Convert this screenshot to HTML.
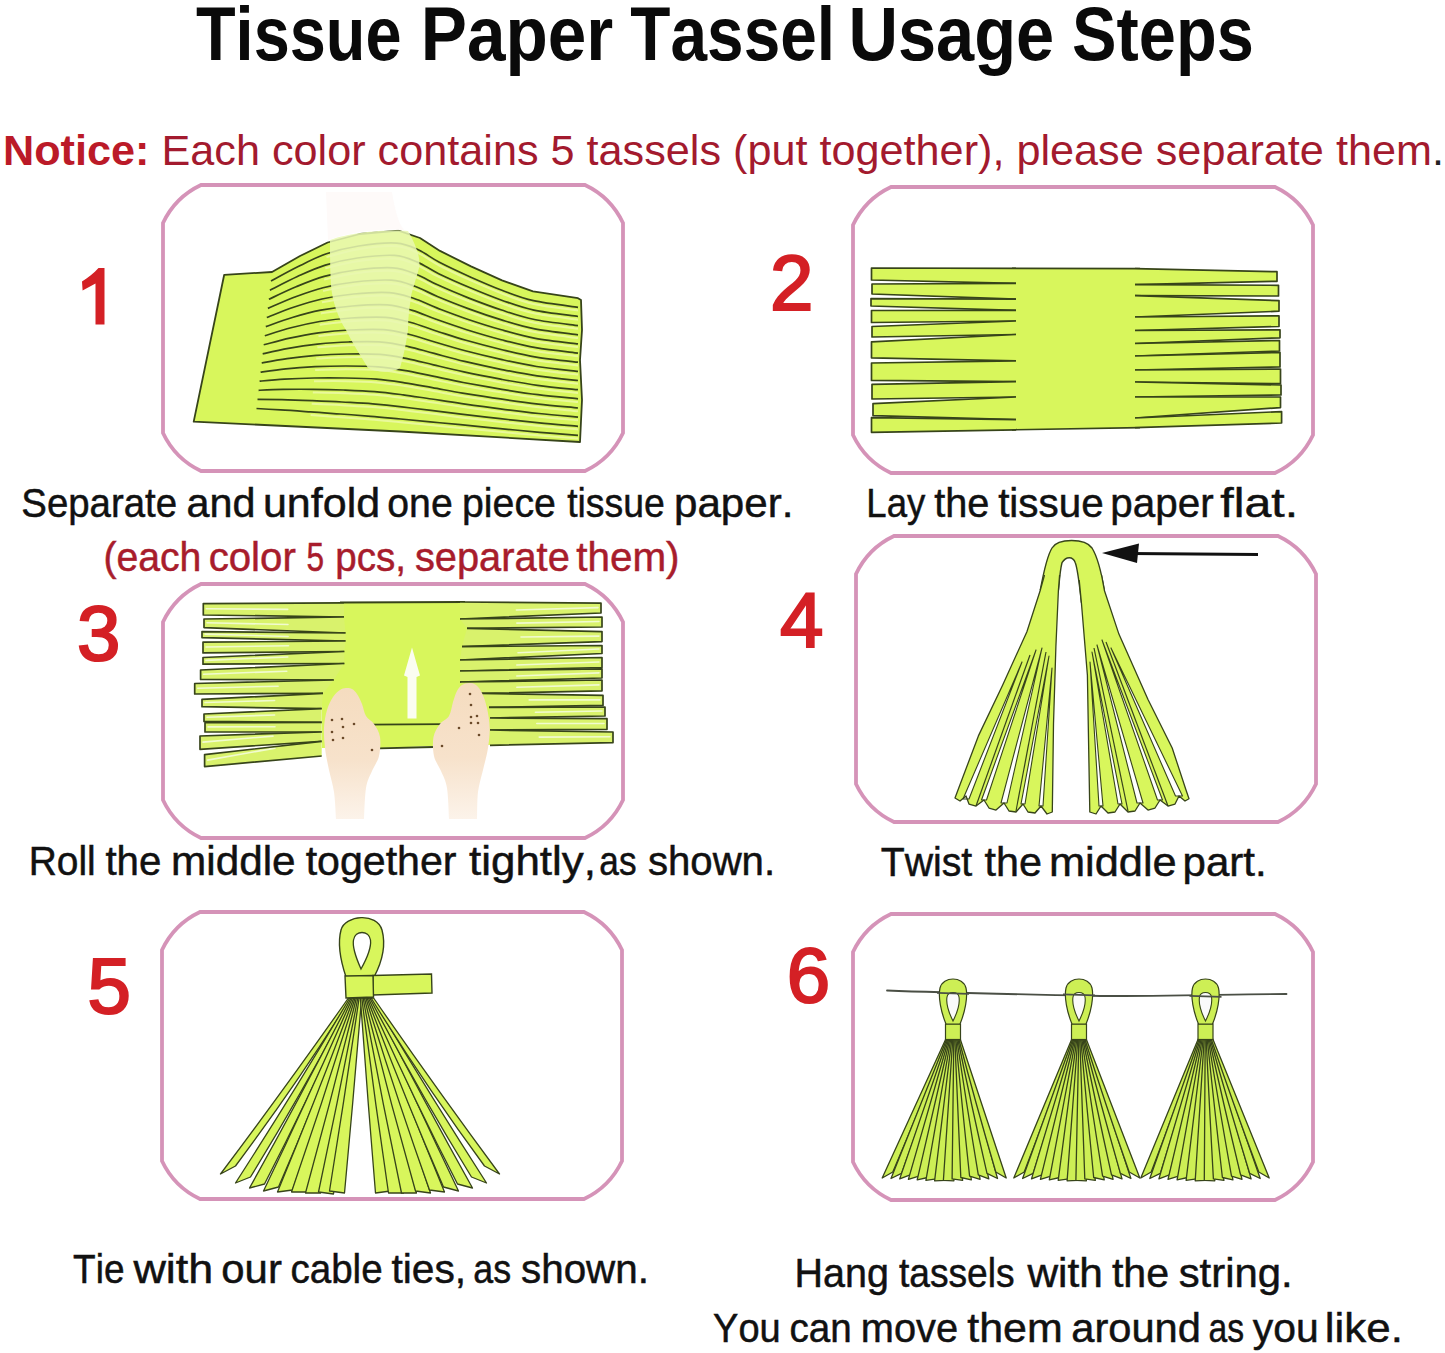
<!DOCTYPE html>
<html><head><meta charset="utf-8"><title>Tissue Paper Tassel Usage Steps</title>
<style>html,body{margin:0;padding:0;background:#fff;}body{width:1445px;height:1353px;overflow:hidden;}svg{display:block;}</style>
</head><body>
<svg width="1445" height="1353" viewBox="0 0 1445 1353"><defs><linearGradient id="skin" x1="0" y1="0" x2="0" y2="1"><stop offset="0" stop-color="#f5dcbf"/><stop offset="0.55" stop-color="#f7e2cb"/><stop offset="1" stop-color="#fcf3ea"/></linearGradient></defs><text x="195.97" y="60" font-family="'Liberation Sans', sans-serif" font-size="76.5" font-weight="bold" fill="#0a0a0a" textLength="205.55" lengthAdjust="spacingAndGlyphs" style="font-kerning:none">Tissue</text>
<text x="420.76" y="60" font-family="'Liberation Sans', sans-serif" font-size="76.5" font-weight="bold" fill="#0a0a0a" textLength="192.58" lengthAdjust="spacingAndGlyphs" style="font-kerning:none">Paper</text>
<text x="630.36" y="60" font-family="'Liberation Sans', sans-serif" font-size="76.5" font-weight="bold" fill="#0a0a0a" textLength="204.69" lengthAdjust="spacingAndGlyphs" style="font-kerning:none">Tassel</text>
<text x="848.38" y="60" font-family="'Liberation Sans', sans-serif" font-size="76.5" font-weight="bold" fill="#0a0a0a" textLength="205.76" lengthAdjust="spacingAndGlyphs" style="font-kerning:none">Usage</text>
<text x="1072.08" y="60" font-family="'Liberation Sans', sans-serif" font-size="76.5" font-weight="bold" fill="#0a0a0a" textLength="181.76" lengthAdjust="spacingAndGlyphs" style="font-kerning:none">Steps</text>
<text x="3" y="164.5" font-family="'Liberation Sans', sans-serif" font-size="42" fill="#a31a2e" textLength="1441" lengthAdjust="spacingAndGlyphs"><tspan font-weight="bold" fill="#bb1a28">Notice:</tspan> Each color contains 5 tassels (put together), please separate them<tspan fill="#222">.</tspan></text>
<path d="M201,185 L585,185 Q610.8,197.2 623,223 L623,433 Q610.8,458.8 585,471 L201,471 Q175.2,458.8 163,433 L163,223 Q175.2,197.2 201,185 Z" fill="none" stroke="#d593b8" stroke-width="3.8"/>
<path d="M891,187 L1275,187 Q1300.8,199.2 1313,225 L1313,435 Q1300.8,460.8 1275,473 L891,473 Q865.2,460.8 853,435 L853,225 Q865.2,199.2 891,187 Z" fill="none" stroke="#d593b8" stroke-width="3.8"/>
<path d="M201,584 L585,584 Q610.8,596.2 623,622 L623,800 Q610.8,825.8 585,838 L201,838 Q175.2,825.8 163,800 L163,622 Q175.2,596.2 201,584 Z" fill="none" stroke="#d593b8" stroke-width="3.8"/>
<path d="M894,536 L1278,536 Q1303.8,548.2 1316,574 L1316,784 Q1303.8,809.8 1278,822 L894,822 Q868.2,809.8 856,784 L856,574 Q868.2,548.2 894,536 Z" fill="none" stroke="#d593b8" stroke-width="3.8"/>
<path d="M200,912 L584,912 Q609.8,924.2 622,950 L622,1161 Q609.8,1186.8 584,1199 L200,1199 Q174.2,1186.8 162,1161 L162,950 Q174.2,924.2 200,912 Z" fill="none" stroke="#d593b8" stroke-width="3.8"/>
<path d="M891,914 L1275,914 Q1300.8,926.2 1313,952 L1313,1162 Q1300.8,1187.8 1275,1200 L891,1200 Q865.2,1187.8 853,1162 L853,952 Q865.2,926.2 891,914 Z" fill="none" stroke="#d593b8" stroke-width="3.8"/>
<polygon points="1012.0,268.3 1140.0,268.6 1140.0,427.6 1012.0,429.8" fill="#d8f65c"/>
<line x1="1012" y1="268.3" x2="1140" y2="268.6" stroke="#37441a" stroke-width="1.7"/>
<line x1="1012" y1="429.8" x2="1140" y2="427.6" stroke="#37441a" stroke-width="1.7"/>
<polygon points="1016.0,268.3 871.5,268.0 871.5,280.0 1016.0,283.3" fill="#d8f65c"/>
<polyline points="1016.0,268.3 871.5,268.0 871.5,280.0 1016.0,283.3" fill="none" stroke="#37441a" stroke-width="1.7" stroke-linejoin="round"/>
<polygon points="1016.0,283.3 872.0,284.0 872.0,294.0 1016.0,299.2" fill="#d8f65c"/>
<polyline points="1016.0,283.3 872.0,284.0 872.0,294.0 1016.0,299.2" fill="none" stroke="#37441a" stroke-width="1.7" stroke-linejoin="round"/>
<polygon points="1016.0,299.2 871.0,298.6 871.0,306.0 1016.0,310.3" fill="#d8f65c"/>
<polyline points="1016.0,299.2 871.0,298.6 871.0,306.0 1016.0,310.3" fill="none" stroke="#37441a" stroke-width="1.7" stroke-linejoin="round"/>
<polygon points="1016.0,310.3 871.5,310.5 871.5,322.5 1016.0,321.0" fill="#d8f65c"/>
<polyline points="1016.0,310.3 871.5,310.5 871.5,322.5 1016.0,321.0" fill="none" stroke="#37441a" stroke-width="1.7" stroke-linejoin="round"/>
<polygon points="1016.0,321.0 872.0,326.5 872.0,337.0 1016.0,334.5" fill="#d8f65c"/>
<polyline points="1016.0,321.0 872.0,326.5 872.0,337.0 1016.0,334.5" fill="none" stroke="#37441a" stroke-width="1.7" stroke-linejoin="round"/>
<polygon points="1016.0,334.5 871.5,341.8 871.5,357.8 1016.0,360.8" fill="#d8f65c"/>
<polyline points="1016.0,334.5 871.5,341.8 871.5,357.8 1016.0,360.8" fill="none" stroke="#37441a" stroke-width="1.7" stroke-linejoin="round"/>
<polygon points="1016.0,360.8 871.5,363.0 871.5,380.4 1016.0,381.7" fill="#d8f65c"/>
<polyline points="1016.0,360.8 871.5,363.0 871.5,380.4 1016.0,381.7" fill="none" stroke="#37441a" stroke-width="1.7" stroke-linejoin="round"/>
<polygon points="1016.0,381.7 872.0,384.4 872.0,399.0 1016.0,397.0" fill="#d8f65c"/>
<polyline points="1016.0,381.7 872.0,384.4 872.0,399.0 1016.0,397.0" fill="none" stroke="#37441a" stroke-width="1.7" stroke-linejoin="round"/>
<polygon points="1016.0,397.0 873.0,403.7 873.0,415.6 1016.0,419.6" fill="#d8f65c"/>
<polyline points="1016.0,397.0 873.0,403.7 873.0,415.6 1016.0,419.6" fill="none" stroke="#37441a" stroke-width="1.7" stroke-linejoin="round"/>
<polygon points="1016.0,419.6 871.5,417.6 871.5,432.3 1016.0,429.8" fill="#d8f65c"/>
<polyline points="1016.0,419.6 871.5,417.6 871.5,432.3 1016.0,429.8" fill="none" stroke="#37441a" stroke-width="1.7" stroke-linejoin="round"/>
<polygon points="1135.0,268.6 1277.0,271.7 1277.0,281.3 1135.0,284.6" fill="#d8f65c"/>
<polyline points="1135.0,268.6 1277.0,271.7 1277.0,281.3 1135.0,284.6" fill="none" stroke="#37441a" stroke-width="1.7" stroke-linejoin="round"/>
<polygon points="1135.0,284.6 1278.5,285.3 1278.5,296.0 1135.0,295.6" fill="#d8f65c"/>
<polyline points="1135.0,284.6 1278.5,285.3 1278.5,296.0 1135.0,295.6" fill="none" stroke="#37441a" stroke-width="1.7" stroke-linejoin="round"/>
<polygon points="1135.0,295.6 1279.0,300.6 1279.0,311.2 1135.0,317.0" fill="#d8f65c"/>
<polyline points="1135.0,295.6 1279.0,300.6 1279.0,311.2 1135.0,317.0" fill="none" stroke="#37441a" stroke-width="1.7" stroke-linejoin="round"/>
<polygon points="1135.0,317.0 1279.0,315.9 1279.0,326.5 1135.0,330.5" fill="#d8f65c"/>
<polyline points="1135.0,317.0 1279.0,315.9 1279.0,326.5 1135.0,330.5" fill="none" stroke="#37441a" stroke-width="1.7" stroke-linejoin="round"/>
<polygon points="1135.0,330.5 1280.0,329.8 1280.0,337.8 1135.0,343.5" fill="#d8f65c"/>
<polyline points="1135.0,330.5 1280.0,329.8 1280.0,337.8 1135.0,343.5" fill="none" stroke="#37441a" stroke-width="1.7" stroke-linejoin="round"/>
<polygon points="1135.0,343.5 1279.5,340.5 1279.5,351.0 1135.0,356.0" fill="#d8f65c"/>
<polyline points="1135.0,343.5 1279.5,340.5 1279.5,351.0 1135.0,356.0" fill="none" stroke="#37441a" stroke-width="1.7" stroke-linejoin="round"/>
<polygon points="1135.0,356.0 1280.0,352.4 1280.0,367.0 1135.0,370.0" fill="#d8f65c"/>
<polyline points="1135.0,356.0 1280.0,352.4 1280.0,367.0 1135.0,370.0" fill="none" stroke="#37441a" stroke-width="1.7" stroke-linejoin="round"/>
<polygon points="1135.0,370.0 1280.5,369.0 1280.5,383.7 1135.0,382.0" fill="#d8f65c"/>
<polyline points="1135.0,370.0 1280.5,369.0 1280.5,383.7 1135.0,382.0" fill="none" stroke="#37441a" stroke-width="1.7" stroke-linejoin="round"/>
<polygon points="1135.0,382.0 1281.0,385.0 1281.0,395.0 1135.0,397.0" fill="#d8f65c"/>
<polyline points="1135.0,382.0 1281.0,385.0 1281.0,395.0 1135.0,397.0" fill="none" stroke="#37441a" stroke-width="1.7" stroke-linejoin="round"/>
<polygon points="1135.0,397.0 1280.5,397.0 1280.5,407.6 1135.0,418.0" fill="#d8f65c"/>
<polyline points="1135.0,397.0 1280.5,397.0 1280.5,407.6 1135.0,418.0" fill="none" stroke="#37441a" stroke-width="1.7" stroke-linejoin="round"/>
<polygon points="1135.0,418.0 1281.6,411.6 1281.6,423.0 1135.0,427.6" fill="#d8f65c"/>
<polyline points="1135.0,418.0 1281.6,411.6 1281.6,423.0 1135.0,427.6" fill="none" stroke="#37441a" stroke-width="1.7" stroke-linejoin="round"/>
<polygon points="340.0,602.5 470.0,602.0 470.0,700.0 490.0,700.0 490.0,745.0 434.0,746.0 381.0,748.0 322.0,748.0 322.0,690.0 333.0,670.0 340.0,660.0" fill="#d8f65c"/>
<line x1="340" y1="602.5" x2="465" y2="602" stroke="#37441a" stroke-width="1.8"/>
<line x1="367" y1="724.6" x2="446" y2="724.2" stroke="#37441a" stroke-width="1.8"/>
<line x1="379" y1="748.3" x2="434" y2="747" stroke="#37441a" stroke-width="1.8"/>
<polygon points="344.0,602.8 203.3,603.6 203.3,615.0 344.0,617.0" fill="#d9f26c"/>
<line x1="287.7" y1="609.4" x2="206.3" y2="608.8" stroke="#f1fbd0" stroke-width="1.6" stroke-linecap="round"/>
<polyline points="344.0,602.8 203.3,603.6 203.3,615.0 344.0,617.0" fill="none" stroke="#37441a" stroke-width="1.7" stroke-linejoin="round"/>
<polygon points="344.0,617.0 204.0,619.0 204.0,627.6 345.5,633.0" fill="#d9f26c"/>
<line x1="288.0" y1="624.5" x2="207.0" y2="622.8" stroke="#f1fbd0" stroke-width="1.6" stroke-linecap="round"/>
<polyline points="344.0,617.0 204.0,619.0 204.0,627.6 345.5,633.0" fill="none" stroke="#37441a" stroke-width="1.7" stroke-linejoin="round"/>
<polygon points="345.5,633.0 202.0,631.6 202.0,637.6 345.5,641.0" fill="#d9f26c"/>
<line x1="288.1" y1="636.5" x2="205.0" y2="634.1" stroke="#f1fbd0" stroke-width="1.6" stroke-linecap="round"/>
<polyline points="345.5,633.0 202.0,631.6 202.0,637.6 345.5,641.0" fill="none" stroke="#37441a" stroke-width="1.7" stroke-linejoin="round"/>
<polygon points="345.5,641.0 203.0,642.2 203.0,652.9 344.3,651.5" fill="#d9f26c"/>
<line x1="288.5" y1="645.8" x2="206.0" y2="647.0" stroke="#f1fbd0" stroke-width="1.6" stroke-linecap="round"/>
<polyline points="345.5,641.0 203.0,642.2 203.0,652.9 344.3,651.5" fill="none" stroke="#37441a" stroke-width="1.7" stroke-linejoin="round"/>
<polygon points="344.3,651.5 203.0,657.5 203.0,664.2 344.3,663.5" fill="#d9f26c"/>
<line x1="287.8" y1="657.0" x2="206.0" y2="660.4" stroke="#f1fbd0" stroke-width="1.6" stroke-linecap="round"/>
<polyline points="344.3,651.5 203.0,657.5 203.0,664.2 344.3,663.5" fill="none" stroke="#37441a" stroke-width="1.7" stroke-linejoin="round"/>
<polygon points="344.3,663.5 200.6,670.0 200.6,679.5 333.7,680.0" fill="#d9f26c"/>
<line x1="286.8" y1="671.2" x2="203.6" y2="674.2" stroke="#f1fbd0" stroke-width="1.6" stroke-linecap="round"/>
<polyline points="344.3,663.5 200.6,670.0 200.6,679.5 333.7,680.0" fill="none" stroke="#37441a" stroke-width="1.7" stroke-linejoin="round"/>
<polygon points="333.7,680.0 194.7,683.5 194.7,694.0 323.0,693.4" fill="#d9f26c"/>
<line x1="278.1" y1="686.2" x2="197.7" y2="688.2" stroke="#f1fbd0" stroke-width="1.6" stroke-linecap="round"/>
<polyline points="333.7,680.0 194.7,683.5 194.7,694.0 323.0,693.4" fill="none" stroke="#37441a" stroke-width="1.7" stroke-linejoin="round"/>
<polygon points="323.0,693.4 202.0,699.4 202.0,706.7 321.7,708.7" fill="#d9f26c"/>
<line x1="274.6" y1="700.5" x2="205.0" y2="702.5" stroke="#f1fbd0" stroke-width="1.6" stroke-linecap="round"/>
<polyline points="323.0,693.4 202.0,699.4 202.0,706.7 321.7,708.7" fill="none" stroke="#37441a" stroke-width="1.7" stroke-linejoin="round"/>
<polygon points="321.7,708.7 204.0,714.0 204.0,721.4 321.7,722.4" fill="#d9f26c"/>
<line x1="274.6" y1="715.0" x2="207.0" y2="717.2" stroke="#f1fbd0" stroke-width="1.6" stroke-linecap="round"/>
<polyline points="321.7,708.7 204.0,714.0 204.0,721.4 321.7,722.4" fill="none" stroke="#37441a" stroke-width="1.7" stroke-linejoin="round"/>
<polygon points="321.7,722.4 205.0,722.7 205.0,732.0 321.7,732.0" fill="#d9f26c"/>
<line x1="275.0" y1="726.7" x2="208.0" y2="726.9" stroke="#f1fbd0" stroke-width="1.6" stroke-linecap="round"/>
<polyline points="321.7,722.4 205.0,722.7 205.0,732.0 321.7,732.0" fill="none" stroke="#37441a" stroke-width="1.7" stroke-linejoin="round"/>
<polygon points="321.7,732.0 200.0,736.0 200.0,749.3 321.7,741.3" fill="#d9f26c"/>
<line x1="273.0" y1="736.1" x2="203.0" y2="742.1" stroke="#f1fbd0" stroke-width="1.6" stroke-linecap="round"/>
<polyline points="321.7,732.0 200.0,736.0 200.0,749.3 321.7,741.3" fill="none" stroke="#37441a" stroke-width="1.7" stroke-linejoin="round"/>
<polygon points="321.7,741.3 204.6,754.6 204.6,766.6 321.7,756.0" fill="#d9f26c"/>
<line x1="274.9" y1="748.1" x2="207.6" y2="760.1" stroke="#f1fbd0" stroke-width="1.6" stroke-linecap="round"/>
<polyline points="321.7,741.3 204.6,754.6 204.6,766.6 321.7,756.0" fill="none" stroke="#37441a" stroke-width="1.7" stroke-linejoin="round"/>
<polygon points="460.0,602.0 601.0,603.2 601.0,613.0 460.0,619.0" fill="#d9f26c"/>
<line x1="516.4" y1="610.0" x2="598.0" y2="607.6" stroke="#f1fbd0" stroke-width="1.6" stroke-linecap="round"/>
<polyline points="460.0,602.0 601.0,603.2 601.0,613.0 460.0,619.0" fill="none" stroke="#37441a" stroke-width="1.7" stroke-linejoin="round"/>
<polygon points="460.0,619.0 602.0,617.0 602.0,627.0 467.0,628.3" fill="#d9f26c"/>
<line x1="516.8" y1="623.1" x2="599.0" y2="621.5" stroke="#f1fbd0" stroke-width="1.6" stroke-linecap="round"/>
<polyline points="460.0,619.0 602.0,617.0 602.0,627.0 467.0,628.3" fill="none" stroke="#37441a" stroke-width="1.7" stroke-linejoin="round"/>
<polygon points="467.0,628.3 602.0,631.6 602.0,641.6 462.0,646.6" fill="#d9f26c"/>
<line x1="521.0" y1="637.0" x2="599.0" y2="636.1" stroke="#f1fbd0" stroke-width="1.6" stroke-linecap="round"/>
<polyline points="467.0,628.3 602.0,631.6 602.0,641.6 462.0,646.6" fill="none" stroke="#37441a" stroke-width="1.7" stroke-linejoin="round"/>
<polygon points="462.0,646.6 602.0,645.5 602.0,653.5 460.0,660.0" fill="#d9f26c"/>
<line x1="518.0" y1="652.8" x2="599.0" y2="649.0" stroke="#f1fbd0" stroke-width="1.6" stroke-linecap="round"/>
<polyline points="462.0,646.6 602.0,645.5 602.0,653.5 460.0,660.0" fill="none" stroke="#37441a" stroke-width="1.7" stroke-linejoin="round"/>
<polygon points="460.0,660.0 602.0,657.5 602.0,667.5 460.0,671.0" fill="#d9f26c"/>
<line x1="516.8" y1="665.0" x2="599.0" y2="662.0" stroke="#f1fbd0" stroke-width="1.6" stroke-linecap="round"/>
<polyline points="460.0,660.0 602.0,657.5 602.0,667.5 460.0,671.0" fill="none" stroke="#37441a" stroke-width="1.7" stroke-linejoin="round"/>
<polygon points="460.0,671.0 602.0,668.8 602.0,678.0 460.0,682.0" fill="#d9f26c"/>
<line x1="516.8" y1="676.0" x2="599.0" y2="672.9" stroke="#f1fbd0" stroke-width="1.6" stroke-linecap="round"/>
<polyline points="460.0,671.0 602.0,668.8 602.0,678.0 460.0,682.0" fill="none" stroke="#37441a" stroke-width="1.7" stroke-linejoin="round"/>
<polygon points="460.0,682.0 602.0,680.0 602.0,690.8 480.0,693.4" fill="#d9f26c"/>
<line x1="516.8" y1="687.2" x2="599.0" y2="684.9" stroke="#f1fbd0" stroke-width="1.6" stroke-linecap="round"/>
<polyline points="460.0,682.0 602.0,680.0 602.0,690.8 480.0,693.4" fill="none" stroke="#37441a" stroke-width="1.7" stroke-linejoin="round"/>
<polygon points="480.0,693.4 603.0,695.4 603.0,705.4 489.0,707.4" fill="#d9f26c"/>
<line x1="529.2" y1="699.9" x2="600.0" y2="699.9" stroke="#f1fbd0" stroke-width="1.6" stroke-linecap="round"/>
<polyline points="480.0,693.4 603.0,695.4 603.0,705.4 489.0,707.4" fill="none" stroke="#37441a" stroke-width="1.7" stroke-linejoin="round"/>
<polygon points="489.0,707.4 605.0,707.0 605.0,716.0 490.0,718.0" fill="#d9f26c"/>
<line x1="535.4" y1="712.2" x2="602.0" y2="711.0" stroke="#f1fbd0" stroke-width="1.6" stroke-linecap="round"/>
<polyline points="489.0,707.4 605.0,707.0 605.0,716.0 490.0,718.0" fill="none" stroke="#37441a" stroke-width="1.7" stroke-linejoin="round"/>
<polygon points="490.0,718.0 607.0,718.7 607.0,729.3 490.0,730.0" fill="#d9f26c"/>
<line x1="536.8" y1="723.5" x2="604.0" y2="723.5" stroke="#f1fbd0" stroke-width="1.6" stroke-linecap="round"/>
<polyline points="490.0,718.0 607.0,718.7 607.0,729.3 490.0,730.0" fill="none" stroke="#37441a" stroke-width="1.7" stroke-linejoin="round"/>
<polygon points="490.0,730.0 613.0,732.0 613.0,742.6 490.0,745.3" fill="#d9f26c"/>
<line x1="539.2" y1="737.1" x2="610.0" y2="736.8" stroke="#f1fbd0" stroke-width="1.6" stroke-linecap="round"/>
<polyline points="490.0,730.0 613.0,732.0 613.0,742.6 490.0,745.3" fill="none" stroke="#37441a" stroke-width="1.7" stroke-linejoin="round"/>
<path d="M412,647.5 L420,675.5 L416.5,677 L416.5,718.5 L407.5,718.5 L407.5,677 L404,675.5 Z" fill="#fbfdf0"/>
<path d="M336.0,819.0 C335.7,814.5 335.2,800.2 334.0,792.0 C332.8,783.8 330.5,777.3 329.0,770.0 C327.5,762.7 325.8,755.0 325.0,748.0 C324.2,741.0 323.7,734.3 324.0,728.0 C324.3,721.7 325.5,715.2 327.0,710.0 C328.5,704.8 330.8,700.3 333.0,697.0 C335.2,693.7 337.8,691.5 340.0,690.0 C342.2,688.5 344.0,688.2 346.0,688.0 C348.0,687.8 350.2,688.0 352.0,689.0 C353.8,690.0 355.3,691.5 357.0,694.0 C358.7,696.5 360.5,700.3 362.0,704.0 C363.5,707.7 364.0,712.7 366.0,716.0 C368.0,719.3 371.7,720.5 374.0,724.0 C376.3,727.5 379.2,731.7 380.0,737.0 C380.8,742.3 380.3,750.3 379.0,756.0 C377.7,761.7 374.2,765.7 372.0,771.0 C369.8,776.3 367.3,780.0 366.0,788.0 C364.7,796.0 364.3,813.8 364.0,819.0 Z" fill="url(#skin)"/>
<path d="M477.0,819.0 C477.2,814.5 477.0,800.2 478.0,792.0 C479.0,783.8 481.3,777.3 483.0,770.0 C484.7,762.7 486.9,755.0 488.0,748.0 C489.1,741.0 489.9,734.7 489.7,728.0 C489.5,721.3 488.3,713.8 487.0,708.0 C485.7,702.2 483.8,696.8 482.0,693.0 C480.2,689.2 478.2,686.7 476.0,685.0 C473.8,683.3 471.3,683.0 469.0,683.0 C466.7,683.0 464.0,683.7 462.0,685.0 C460.0,686.3 458.5,688.2 457.0,691.0 C455.5,693.8 454.3,697.8 453.0,702.0 C451.7,706.2 451.2,712.3 449.0,716.0 C446.8,719.7 442.6,720.5 440.0,724.0 C437.4,727.5 434.5,731.7 433.5,737.0 C432.5,742.3 432.8,750.3 434.0,756.0 C435.2,761.7 438.8,765.7 441.0,771.0 C443.2,776.3 445.7,780.0 447.0,788.0 C448.3,796.0 448.7,813.8 449.0,819.0 Z" fill="url(#skin)"/>
<circle cx="332" cy="720" r="1.3" fill="#6b4a2a"/>
<circle cx="332" cy="732" r="1.3" fill="#6b4a2a"/>
<circle cx="333" cy="740" r="1.3" fill="#6b4a2a"/>
<circle cx="342" cy="719" r="1.3" fill="#6b4a2a"/>
<circle cx="343" cy="727" r="1.3" fill="#6b4a2a"/>
<circle cx="343" cy="738" r="1.3" fill="#6b4a2a"/>
<circle cx="354" cy="724" r="1.3" fill="#6b4a2a"/>
<circle cx="372" cy="750" r="1.3" fill="#6b4a2a"/>
<circle cx="471" cy="705" r="1.3" fill="#6b4a2a"/>
<circle cx="471" cy="717" r="1.3" fill="#6b4a2a"/>
<circle cx="477" cy="716" r="1.3" fill="#6b4a2a"/>
<circle cx="478" cy="723" r="1.3" fill="#6b4a2a"/>
<circle cx="471" cy="723" r="1.3" fill="#6b4a2a"/>
<circle cx="459" cy="728" r="1.3" fill="#6b4a2a"/>
<circle cx="442" cy="746" r="1.3" fill="#6b4a2a"/>
<circle cx="479" cy="735" r="1.3" fill="#6b4a2a"/>
<circle cx="470" cy="694" r="1.3" fill="#6b4a2a"/>
<polygon points="224.2,274.8 272.0,272.0 300.0,256.0 327.6,242.5 360.0,234.0 398.4,230.7 420.0,238.0 440.0,250.9 471.0,266.4 502.0,280.4 533.0,291.3 578.0,298.2 581.0,300.0 582.0,330.0 580.0,360.0 582.0,400.0 580.0,442.0 400.0,431.5 193.7,421.6" fill="#d8f65c" stroke="#37441a" stroke-width="1.8" stroke-linejoin="round"/>
<path d="M271.0,281.1 C275.6,278.6 289.5,270.8 298.7,266.3 C308.0,261.7 316.5,257.2 326.5,253.8 C336.5,250.4 347.0,247.8 358.7,246.0 C370.4,244.2 386.6,242.4 396.6,243.1 C406.6,243.8 411.6,246.9 418.7,250.1 C425.8,253.3 430.8,257.8 439.4,262.3 C448.0,266.8 459.9,272.3 470.3,277.0 C480.7,281.6 491.3,286.3 501.9,290.3 C512.4,294.2 520.8,297.9 533.5,300.7 C546.1,303.5 570.6,306.2 578.0,307.3" fill="none" stroke="#37441a" stroke-width="1.7"/>
<path d="M326.5,257.0 C331.8,255.7 347.0,251.0 358.7,249.2 C370.4,247.4 386.6,245.6 396.6,246.3 C406.6,247.0 411.6,250.1 418.7,253.3 C425.8,256.5 430.8,261.0 439.4,265.5 C448.0,270.0 459.9,275.5 470.3,280.2 C480.7,284.8 491.3,289.5 501.9,293.5 C512.4,297.4 520.8,301.1 533.5,303.9 C546.1,306.7 570.6,309.4 578.0,310.5" fill="none" stroke="#ecf9a6" stroke-width="2" opacity="0.85"/>
<path d="M269.9,290.2 C274.5,287.9 288.2,280.7 297.4,276.5 C306.7,272.3 315.3,268.2 325.3,265.1 C335.3,262.0 345.9,259.6 357.4,258.0 C369.0,256.4 384.7,254.8 394.7,255.4 C404.7,256.1 410.1,259.1 417.4,262.1 C424.7,265.2 430.0,269.5 438.7,273.7 C447.4,277.9 459.1,283.1 469.6,287.5 C480.1,291.9 491.0,296.4 501.7,300.2 C512.5,303.9 521.2,307.4 533.9,310.1 C546.6,312.8 570.7,315.4 578.0,316.5" fill="none" stroke="#37441a" stroke-width="1.7"/>
<path d="M325.3,268.3 C330.7,267.1 345.9,262.8 357.4,261.2 C369.0,259.6 384.7,258.0 394.7,258.6 C404.7,259.3 410.1,262.3 417.4,265.3 C424.7,268.4 430.0,272.7 438.7,276.9 C447.4,281.1 459.1,286.3 469.6,290.7 C480.1,295.1 491.0,299.6 501.7,303.4 C512.5,307.1 521.2,310.6 533.9,313.3 C546.6,316.0 570.7,318.6 578.0,319.7" fill="none" stroke="#ecf9a6" stroke-width="2" opacity="0.85"/>
<path d="M268.9,299.3 C273.4,297.2 286.9,290.6 296.1,286.8 C305.3,283.0 314.2,279.2 324.2,276.4 C334.2,273.6 344.7,271.4 356.1,270.0 C367.6,268.6 382.9,267.1 392.9,267.8 C402.9,268.5 408.6,271.3 416.1,274.2 C423.7,277.1 429.3,281.1 438.1,285.1 C446.9,289.1 458.3,293.9 468.9,298.1 C479.5,302.2 490.7,306.5 501.6,310.0 C512.5,313.6 521.6,316.9 534.4,319.5 C547.1,322.1 570.7,324.6 578.0,325.6" fill="none" stroke="#37441a" stroke-width="1.7"/>
<path d="M324.2,279.6 C329.5,278.5 344.7,274.6 356.1,273.2 C367.6,271.8 382.9,270.3 392.9,271.0 C402.9,271.7 408.6,274.5 416.1,277.4 C423.7,280.3 429.3,284.3 438.1,288.3 C446.9,292.3 458.3,297.1 468.9,301.3 C479.5,305.4 490.7,309.7 501.6,313.2 C512.5,316.8 521.6,320.1 534.4,322.7 C547.1,325.3 570.7,327.8 578.0,328.8" fill="none" stroke="#ecf9a6" stroke-width="2" opacity="0.85"/>
<path d="M267.9,308.4 C272.4,306.5 285.6,300.5 294.8,297.0 C304.0,293.6 313.1,290.2 323.1,287.7 C333.1,285.2 343.5,283.2 354.8,282.0 C366.2,280.8 381.1,279.5 391.1,280.2 C401.1,280.9 407.1,283.5 414.8,286.3 C422.6,289.0 428.5,292.7 437.4,296.5 C446.3,300.2 457.5,304.7 468.2,308.6 C478.8,312.5 490.4,316.5 501.5,319.9 C512.6,323.3 522.1,326.4 534.8,328.9 C547.6,331.4 570.8,333.8 578.0,334.8" fill="none" stroke="#37441a" stroke-width="1.7"/>
<path d="M323.1,290.9 C328.4,289.9 343.5,286.4 354.8,285.2 C366.2,284.0 381.1,282.7 391.1,283.4 C401.1,284.1 407.1,286.7 414.8,289.5 C422.6,292.2 428.5,295.9 437.4,299.7 C446.3,303.4 457.5,307.9 468.2,311.8 C478.8,315.7 490.4,319.7 501.5,323.1 C512.6,326.5 522.1,329.6 534.8,332.1 C547.6,334.6 570.8,337.0 578.0,338.0" fill="none" stroke="#ecf9a6" stroke-width="2" opacity="0.85"/>
<path d="M266.8,317.5 C271.3,315.8 284.4,310.4 293.5,307.3 C302.7,304.2 311.9,301.2 321.9,299.0 C331.9,296.7 342.3,295.1 353.5,294.0 C364.8,292.9 379.2,291.9 389.2,292.6 C399.2,293.3 405.6,295.8 413.5,298.3 C421.5,300.9 427.8,304.4 436.8,307.9 C445.8,311.3 456.7,315.5 467.5,319.2 C478.2,322.8 490.1,326.6 501.4,329.8 C512.7,333.0 522.5,335.9 535.3,338.3 C548.0,340.7 570.9,343.0 578.0,343.9" fill="none" stroke="#37441a" stroke-width="1.7"/>
<path d="M321.9,302.2 C327.2,301.3 342.3,298.3 353.5,297.2 C364.8,296.1 379.2,295.1 389.2,295.8 C399.2,296.5 405.6,299.0 413.5,301.5 C421.5,304.1 427.8,307.6 436.8,311.1 C445.8,314.5 456.7,318.7 467.5,322.4 C478.2,326.0 490.1,329.8 501.4,333.0 C512.7,336.2 522.5,339.1 535.3,341.5 C548.0,343.9 570.9,346.2 578.0,347.1" fill="none" stroke="#ecf9a6" stroke-width="2" opacity="0.85"/>
<path d="M265.8,326.6 C270.2,325.1 283.1,320.3 292.3,317.5 C301.4,314.8 310.8,312.2 320.8,310.2 C330.8,308.3 341.2,306.9 352.3,306.0 C363.4,305.1 377.4,304.2 387.4,304.9 C397.4,305.7 404.1,308.0 412.3,310.4 C420.4,312.8 427.0,316.0 436.1,319.3 C445.2,322.5 455.9,326.3 466.7,329.7 C477.6,333.1 489.7,336.7 501.2,339.7 C512.7,342.7 522.9,345.5 535.7,347.7 C548.5,349.9 571.0,352.2 578.0,353.1" fill="none" stroke="#37441a" stroke-width="1.7"/>
<path d="M320.8,313.4 C326.0,312.7 341.2,310.1 352.3,309.2 C363.4,308.3 377.4,307.4 387.4,308.1 C397.4,308.9 404.1,311.2 412.3,313.6 C420.4,316.0 427.0,319.2 436.1,322.5 C445.2,325.7 455.9,329.5 466.7,332.9 C477.6,336.3 489.7,339.9 501.2,342.9 C512.7,345.9 522.9,348.7 535.7,350.9 C548.5,353.1 571.0,355.4 578.0,356.3" fill="none" stroke="#ecf9a6" stroke-width="2" opacity="0.85"/>
<path d="M264.8,335.7 C269.1,334.4 281.8,330.2 291.0,327.8 C300.1,325.4 309.7,323.2 319.7,321.5 C329.7,319.9 340.0,318.7 351.0,318.0 C362.0,317.3 375.6,316.6 385.6,317.3 C395.6,318.1 402.6,320.2 411.0,322.5 C419.3,324.7 426.3,327.7 435.5,330.7 C444.7,333.6 455.1,337.1 466.0,340.3 C477.0,343.4 489.4,346.7 501.1,349.5 C512.8,352.3 523.3,355.0 536.2,357.1 C549.0,359.2 571.0,361.4 578.0,362.2" fill="none" stroke="#37441a" stroke-width="1.7"/>
<path d="M319.7,324.7 C324.9,324.1 340.0,321.9 351.0,321.2 C362.0,320.5 375.6,319.8 385.6,320.5 C395.6,321.3 402.6,323.4 411.0,325.7 C419.3,327.9 426.3,330.9 435.5,333.9 C444.7,336.8 455.1,340.3 466.0,343.5 C477.0,346.6 489.4,349.9 501.1,352.7 C512.8,355.5 523.3,358.2 536.2,360.3 C549.0,362.4 571.0,364.6 578.0,365.4" fill="none" stroke="#ecf9a6" stroke-width="2" opacity="0.85"/>
<path d="M263.7,344.8 C268.1,343.7 280.5,340.1 289.7,338.1 C298.8,336.1 308.5,334.2 318.5,332.8 C328.5,331.5 338.8,330.5 349.7,330.0 C360.5,329.5 373.7,328.9 383.7,329.7 C393.7,330.4 401.2,332.5 409.7,334.5 C418.2,336.6 425.6,339.3 434.8,342.0 C444.1,344.8 454.3,347.9 465.3,350.8 C476.3,353.7 489.1,356.8 501.0,359.4 C512.8,362.0 523.8,364.5 536.6,366.5 C549.5,368.5 571.1,370.6 578.0,371.4" fill="none" stroke="#37441a" stroke-width="1.7"/>
<path d="M318.5,336.0 C323.7,335.6 338.8,333.7 349.7,333.2 C360.5,332.7 373.7,332.1 383.7,332.9 C393.7,333.6 401.2,335.7 409.7,337.7 C418.2,339.8 425.6,342.5 434.8,345.2 C444.1,348.0 454.3,351.1 465.3,354.0 C476.3,356.9 489.1,360.0 501.0,362.6 C512.8,365.2 523.8,367.7 536.6,369.7 C549.5,371.7 571.1,373.8 578.0,374.6" fill="none" stroke="#ecf9a6" stroke-width="2" opacity="0.85"/>
<path d="M262.7,353.9 C267.0,352.9 279.3,349.9 288.4,348.3 C297.5,346.7 307.4,345.2 317.4,344.1 C327.4,343.1 337.6,342.3 348.4,342.0 C359.1,341.7 371.9,341.3 381.9,342.1 C391.9,342.8 399.7,344.7 408.4,346.6 C417.1,348.5 424.8,351.0 434.2,353.4 C443.6,355.9 453.5,358.8 464.6,361.4 C475.7,364.0 488.8,366.9 500.8,369.3 C512.9,371.7 524.2,374.0 537.1,375.9 C549.9,377.8 571.2,379.8 578.0,380.5" fill="none" stroke="#37441a" stroke-width="1.7"/>
<path d="M317.4,347.3 C322.5,347.0 337.6,345.5 348.4,345.2 C359.1,344.9 371.9,344.5 381.9,345.3 C391.9,346.0 399.7,347.9 408.4,349.8 C417.1,351.7 424.8,354.2 434.2,356.6 C443.6,359.1 453.5,362.0 464.6,364.6 C475.7,367.2 488.8,370.1 500.8,372.5 C512.9,374.9 524.2,377.2 537.1,379.1 C549.9,381.0 571.2,383.0 578.0,383.7" fill="none" stroke="#ecf9a6" stroke-width="2" opacity="0.85"/>
<path d="M261.7,363.0 C265.9,362.2 278.0,359.8 287.1,358.6 C296.2,357.3 306.2,356.2 316.2,355.4 C326.2,354.6 336.5,354.2 347.1,354.0 C357.7,353.8 370.1,353.7 380.1,354.4 C390.1,355.2 398.2,356.9 407.1,358.6 C416.0,360.4 424.1,362.6 433.5,364.8 C443.0,367.1 452.7,369.6 463.9,371.9 C475.1,374.3 488.4,376.9 500.7,379.2 C513.0,381.4 524.6,383.5 537.5,385.3 C550.4,387.1 571.3,389.0 578.0,389.7" fill="none" stroke="#37441a" stroke-width="1.7"/>
<path d="M316.2,358.6 C321.4,358.4 336.5,357.4 347.1,357.2 C357.7,357.0 370.1,356.9 380.1,357.6 C390.1,358.4 398.2,360.1 407.1,361.8 C416.0,363.6 424.1,365.8 433.5,368.0 C443.0,370.3 452.7,372.8 463.9,375.1 C475.1,377.5 488.4,380.1 500.7,382.4 C513.0,384.6 524.6,386.7 537.5,388.5 C550.4,390.3 571.3,392.2 578.0,392.9" fill="none" stroke="#ecf9a6" stroke-width="2" opacity="0.85"/>
<path d="M260.6,372.1 C264.8,371.5 276.7,369.7 285.8,368.8 C294.9,367.9 305.1,367.2 315.1,366.7 C325.1,366.2 335.3,366.0 345.8,366.0 C356.3,366.0 368.2,366.0 378.2,366.8 C388.2,367.6 396.7,369.1 405.8,370.7 C414.9,372.3 423.3,374.3 432.9,376.2 C442.5,378.2 451.9,380.4 463.2,382.5 C474.5,384.6 488.1,387.0 500.6,389.1 C513.0,391.1 525.1,393.1 538.0,394.7 C550.9,396.3 571.3,398.1 578.0,398.8" fill="none" stroke="#37441a" stroke-width="1.7"/>
<path d="M315.1,369.9 C320.2,369.8 335.3,369.2 345.8,369.2 C356.3,369.2 368.2,369.2 378.2,370.0 C388.2,370.8 396.7,372.3 405.8,373.9 C414.9,375.5 423.3,377.5 432.9,379.4 C442.5,381.4 451.9,383.6 463.2,385.7 C474.5,387.8 488.1,390.2 500.6,392.3 C513.0,394.3 525.1,396.3 538.0,397.9 C550.9,399.5 571.3,401.3 578.0,402.0" fill="none" stroke="#ecf9a6" stroke-width="2" opacity="0.85"/>
<path d="M259.6,381.2 C263.8,380.8 275.5,379.6 284.5,379.1 C293.6,378.6 304.0,378.2 314.0,378.0 C324.0,377.8 334.1,377.8 344.5,378.0 C354.9,378.2 366.4,378.4 376.4,379.2 C386.4,380.0 395.2,381.4 404.5,382.8 C413.8,384.2 422.6,385.9 432.3,387.6 C441.9,389.3 451.1,391.2 462.5,393.1 C473.8,394.9 487.8,397.1 500.5,398.9 C513.1,400.8 525.5,402.6 538.4,404.1 C551.3,405.6 571.4,407.3 578.0,408.0" fill="none" stroke="#37441a" stroke-width="1.7"/>
<path d="M314.0,381.2 C319.1,381.2 334.1,381.0 344.5,381.2 C354.9,381.4 366.4,381.6 376.4,382.4 C386.4,383.2 395.2,384.6 404.5,386.0 C413.8,387.4 422.6,389.1 432.3,390.8 C441.9,392.5 451.1,394.4 462.5,396.3 C473.8,398.1 487.8,400.3 500.5,402.1 C513.1,404.0 525.5,405.8 538.4,407.3 C551.3,408.8 571.4,410.5 578.0,411.2" fill="none" stroke="#ecf9a6" stroke-width="2" opacity="0.85"/>
<path d="M258.6,390.3 C262.7,390.1 274.2,389.5 283.2,389.4 C292.3,389.2 302.8,389.2 312.8,389.3 C322.8,389.4 332.9,389.6 343.2,390.0 C353.5,390.4 364.6,390.8 374.6,391.6 C384.6,392.4 393.7,393.6 403.2,394.8 C412.7,396.1 421.9,397.6 431.6,399.0 C441.4,400.5 450.3,402.0 461.8,403.6 C473.2,405.2 487.5,407.2 500.3,408.8 C513.2,410.5 525.9,412.1 538.9,413.5 C551.8,414.9 571.5,416.5 578.0,417.1" fill="none" stroke="#37441a" stroke-width="1.7"/>
<path d="M312.8,392.5 C317.9,392.6 332.9,392.8 343.2,393.2 C353.5,393.6 364.6,394.0 374.6,394.8 C384.6,395.6 393.7,396.8 403.2,398.0 C412.7,399.3 421.9,400.8 431.6,402.2 C441.4,403.7 450.3,405.2 461.8,406.8 C473.2,408.4 487.5,410.4 500.3,412.0 C513.2,413.7 525.9,415.3 538.9,416.7 C551.8,418.1 571.5,419.7 578.0,420.3" fill="none" stroke="#ecf9a6" stroke-width="2" opacity="0.85"/>
<path d="M257.5,399.4 C261.6,399.4 272.9,399.4 281.9,399.6 C291.0,399.8 301.7,400.2 311.7,400.6 C321.7,401.0 331.8,401.4 341.9,402.0 C352.1,402.6 362.7,403.1 372.7,403.9 C382.7,404.8 392.2,405.8 401.9,406.9 C411.6,408.0 421.1,409.2 431.0,410.4 C440.8,411.6 449.5,412.8 461.1,414.2 C472.6,415.5 487.2,417.2 500.2,418.7 C513.2,420.1 526.4,421.6 539.3,422.9 C552.3,424.2 571.6,425.7 578.0,426.3" fill="none" stroke="#37441a" stroke-width="1.7"/>
<path d="M311.7,403.8 C316.7,404.0 331.8,404.6 341.9,405.2 C352.1,405.8 362.7,406.3 372.7,407.1 C382.7,408.0 392.2,409.0 401.9,410.1 C411.6,411.2 421.1,412.4 431.0,413.6 C440.8,414.8 449.5,416.0 461.1,417.4 C472.6,418.7 487.2,420.4 500.2,421.9 C513.2,423.3 526.4,424.8 539.3,426.1 C552.3,427.4 571.6,428.9 578.0,429.5" fill="none" stroke="#ecf9a6" stroke-width="2" opacity="0.85"/>
<path d="M256.5,408.5 C260.5,408.7 271.6,409.3 280.6,409.9 C289.7,410.4 300.6,411.2 310.6,411.9 C320.6,412.5 330.6,413.3 340.6,414.0 C350.7,414.7 360.9,415.5 370.9,416.3 C380.9,417.1 390.7,418.1 400.6,419.0 C410.5,419.9 420.4,420.8 430.3,421.8 C440.3,422.8 448.7,423.6 460.4,424.7 C472.0,425.8 486.8,427.3 500.1,428.6 C513.3,429.8 526.8,431.2 539.8,432.3 C552.8,433.4 571.6,434.9 578.0,435.4" fill="none" stroke="#37441a" stroke-width="1.7"/>
<path d="M310.6,415.1 C315.6,415.4 330.6,416.5 340.6,417.2 C350.7,417.9 360.9,418.7 370.9,419.5 C380.9,420.3 390.7,421.3 400.6,422.2 C410.5,423.1 420.4,424.0 430.3,425.0 C440.3,426.0 448.7,426.8 460.4,427.9 C472.0,429.0 486.8,430.5 500.1,431.8 C513.3,433.0 526.8,434.4 539.8,435.5 C552.8,436.6 571.6,438.1 578.0,438.6" fill="none" stroke="#ecf9a6" stroke-width="2" opacity="0.85"/>
<path d="M330,240 C350,232 390,229 408,231 C416,245 421,258 419,268 C416,280 412,290 411,297 C409,310 408,320 408,330 C406,345 403,358 400,368 C392,373 378,373 368,368 C360,355 352,342 346,330 C338,318 332,300 331,285 C330,270 330,255 330,240 Z" fill="#e9f8b2" opacity="0.86"/>
<path d="M326,192 L392,192 C395,210 398,222 404,230 C380,228 350,232 328,240 Z" fill="#fefaf9"/>
<path d="M1040.2,590.5 C1044,570 1047,556 1052,548 C1058,538 1085,538 1092,548 C1097,556 1101,570 1104.4,590.5 L1081.4,602.7 C1079.5,585 1078,570 1075.3,562.7 C1073,556 1066,556 1062,562.7 C1060,570 1059,585 1058.4,590.5 Z" fill="#d8f65c"/>
<path d="M1040.2,590.5 C1044,570 1047,556 1052,548 C1058,538 1085,538 1092,548 C1097,556 1101,570 1104.4,590.5" fill="none" stroke="#37441a" stroke-width="1.4"/>
<path d="M1081.4,602.7 C1079.5,585 1078,570 1075.3,562.7 C1073,556 1066,556 1062,562.7 C1060,570 1059,585 1058.4,590.5" fill="none" stroke="#37441a" stroke-width="1.4"/>
<path d="M1044.5,575.0 L1040.2,590.5 L1026.9,631.7 L1002.7,685.0 L978.4,735.9 L958.0,790.0 L955.0,798.0 L955.0,798.0 L960.0,801.0 L966.0,796.0 L969.0,804.0 L976.0,806.0 L984.0,800.0 L989.0,808.0 L996.0,810.0 L1004.0,803.0 L1009.0,811.0 L1016.0,812.0 L1023.0,804.0 L1028.0,812.0 L1035.0,813.0 L1041.0,806.0 L1047.0,814.0 L1052.3,812.0 L1052.3,812.0 L1053.5,723.8 L1055.9,646.2 L1058.4,590.5 L1059.6,575.0 Z" fill="#d8f65c"/>
<path d="M1022.0,662.0 L963.0,799.0 L969.0,799.0 Z" fill="#fff" stroke="#37441a" stroke-width="1.1" stroke-linejoin="round"/>
<path d="M1030.0,655.0 L976.0,806.0" stroke="#37441a" stroke-width="1.2"/>
<path d="M1036.0,650.0 L981.5,800.0 L986.5,800.0 Z" fill="#fff" stroke="#37441a" stroke-width="1.1" stroke-linejoin="round"/>
<path d="M1042.0,648.0 L1001.0,803.0 L1007.0,803.0 Z" fill="#fff" stroke="#37441a" stroke-width="1.1" stroke-linejoin="round"/>
<path d="M1046.0,652.0 L1016.0,811.0" stroke="#37441a" stroke-width="1.2"/>
<path d="M1049.0,656.0 L1021.0,804.0 L1025.0,804.0 Z" fill="#fff" stroke="#37441a" stroke-width="1.1" stroke-linejoin="round"/>
<path d="M1052.0,668.0 L1039.0,806.0 L1043.0,806.0 Z" fill="#fff" stroke="#37441a" stroke-width="1.1" stroke-linejoin="round"/>
<path d="M1044.5,575.0 L1040.2,590.5 L1026.9,631.7 L1002.7,685.0 L978.4,735.9 L958.0,790.0 L955.0,798.0 L955.0,798.0 L960.0,801.0 L966.0,796.0 L969.0,804.0 L976.0,806.0 L984.0,800.0 L989.0,808.0 L996.0,810.0 L1004.0,803.0 L1009.0,811.0 L1016.0,812.0 L1023.0,804.0 L1028.0,812.0 L1035.0,813.0 L1041.0,806.0 L1047.0,814.0 L1052.3,812.0 L1052.3,812.0 L1053.5,723.8 L1055.9,646.2 L1058.4,590.5 L1059.6,575.0" fill="none" stroke="#37441a" stroke-width="1.3" stroke-linejoin="round"/>
<path d="M1101.5,575.0 L1104.4,590.5 L1118.9,634.1 L1148.0,699.5 L1172.2,748.0 L1186.0,790.0 L1189.0,798.8 L1189.0,798.8 L1185.0,801.0 L1179.0,796.0 L1175.0,804.0 L1168.0,806.0 L1160.0,800.0 L1155.0,808.0 L1148.0,810.0 L1140.0,803.0 L1135.0,811.0 L1128.0,812.0 L1120.0,804.0 L1115.0,812.0 L1108.0,813.0 L1101.0,806.0 L1096.0,814.0 L1089.8,812.0 L1089.8,812.0 L1087.4,675.3 L1081.4,602.7 L1079.2,580.0 Z" fill="#d8f65c"/>
<path d="M1111.0,648.0 L1175.5,796.0 L1182.5,796.0 Z" fill="#fff" stroke="#37441a" stroke-width="1.1" stroke-linejoin="round"/>
<path d="M1106.0,642.0 L1168.0,806.0" stroke="#37441a" stroke-width="1.2"/>
<path d="M1102.0,640.0 L1157.5,800.0 L1162.5,800.0 Z" fill="#fff" stroke="#37441a" stroke-width="1.1" stroke-linejoin="round"/>
<path d="M1097.0,645.0 L1137.0,803.0 L1143.0,803.0 Z" fill="#fff" stroke="#37441a" stroke-width="1.1" stroke-linejoin="round"/>
<path d="M1094.0,648.0 L1128.0,811.0" stroke="#37441a" stroke-width="1.2"/>
<path d="M1092.0,652.0 L1118.0,804.0 L1122.0,804.0 Z" fill="#fff" stroke="#37441a" stroke-width="1.1" stroke-linejoin="round"/>
<path d="M1090.0,662.0 L1099.0,806.0 L1103.0,806.0 Z" fill="#fff" stroke="#37441a" stroke-width="1.1" stroke-linejoin="round"/>
<path d="M1101.5,575.0 L1104.4,590.5 L1118.9,634.1 L1148.0,699.5 L1172.2,748.0 L1186.0,790.0 L1189.0,798.8 L1189.0,798.8 L1185.0,801.0 L1179.0,796.0 L1175.0,804.0 L1168.0,806.0 L1160.0,800.0 L1155.0,808.0 L1148.0,810.0 L1140.0,803.0 L1135.0,811.0 L1128.0,812.0 L1120.0,804.0 L1115.0,812.0 L1108.0,813.0 L1101.0,806.0 L1096.0,814.0 L1089.8,812.0 L1089.8,812.0 L1087.4,675.3 L1081.4,602.7 L1079.2,580.0" fill="none" stroke="#37441a" stroke-width="1.3" stroke-linejoin="round"/>
<line x1="1258" y1="554.5" x2="1130" y2="553.5" stroke="#111" stroke-width="3.2"/>
<path d="M1102,553 L1139,543.5 L1137,563 Z" fill="#111"/>
<path d="M348.4,998.0 Q288.1,1084.0 220.5,1174.0 L235.5,1166.0 Q296.9,1084.0 350.9,998.0 Z" fill="#d8f65c" stroke="#37441a" stroke-width="1.3" stroke-linejoin="round"/>
<path d="M349.8,998.0 Q295.9,1089.0 235.5,1183.0 L250.5,1177.0 Q304.6,1089.0 352.2,998.0 Z" fill="#d8f65c" stroke="#37441a" stroke-width="1.3" stroke-linejoin="round"/>
<path d="M351.1,998.0 Q303.2,1092.0 249.5,1188.0 L264.5,1184.0 Q311.9,1092.0 353.6,998.0 Z" fill="#d8f65c" stroke="#37441a" stroke-width="1.3" stroke-linejoin="round"/>
<path d="M352.4,998.0 Q310.4,1093.5 263.5,1191.0 L278.5,1187.0 Q319.2,1093.5 354.9,998.0 Z" fill="#d8f65c" stroke="#37441a" stroke-width="1.3" stroke-linejoin="round"/>
<path d="M353.8,998.0 Q317.7,1094.5 277.5,1192.0 L292.5,1190.0 Q326.5,1094.5 356.2,998.0 Z" fill="#d8f65c" stroke="#37441a" stroke-width="1.3" stroke-linejoin="round"/>
<path d="M355.1,998.0 Q325.0,1095.0 291.5,1192.0 L306.5,1192.0 Q333.8,1095.0 357.6,998.0 Z" fill="#d8f65c" stroke="#37441a" stroke-width="1.3" stroke-linejoin="round"/>
<path d="M356.4,998.0 Q332.3,1095.5 305.5,1193.0 L320.5,1193.0 Q341.0,1095.5 358.9,998.0 Z" fill="#d8f65c" stroke="#37441a" stroke-width="1.3" stroke-linejoin="round"/>
<path d="M357.8,998.0 Q339.1,1095.5 318.5,1192.0 L333.5,1194.0 Q347.9,1095.5 360.2,998.0 Z" fill="#d8f65c" stroke="#37441a" stroke-width="1.3" stroke-linejoin="round"/>
<path d="M359.1,998.0 Q345.0,1095.0 329.5,1191.0 L344.5,1193.0 Q353.7,1095.0 361.6,998.0 Z" fill="#d8f65c" stroke="#37441a" stroke-width="1.3" stroke-linejoin="round"/>
<path d="M360.4,998.0 Q367.3,1095.0 375.5,1193.0 L390.5,1191.0 Q376.1,1095.0 362.9,998.0 Z" fill="#d8f65c" stroke="#37441a" stroke-width="1.3" stroke-linejoin="round"/>
<path d="M361.8,998.0 Q374.1,1095.5 388.5,1193.0 L403.5,1193.0 Q382.9,1095.5 364.2,998.0 Z" fill="#d8f65c" stroke="#37441a" stroke-width="1.3" stroke-linejoin="round"/>
<path d="M363.1,998.0 Q381.0,1095.5 401.5,1193.0 L416.5,1193.0 Q389.7,1095.5 365.6,998.0 Z" fill="#d8f65c" stroke="#37441a" stroke-width="1.3" stroke-linejoin="round"/>
<path d="M364.4,998.0 Q388.2,1095.0 415.5,1191.0 L430.5,1193.0 Q397.0,1095.0 366.9,998.0 Z" fill="#d8f65c" stroke="#37441a" stroke-width="1.3" stroke-linejoin="round"/>
<path d="M365.8,998.0 Q395.5,1094.5 429.5,1190.0 L444.5,1192.0 Q404.3,1094.5 368.2,998.0 Z" fill="#d8f65c" stroke="#37441a" stroke-width="1.3" stroke-linejoin="round"/>
<path d="M367.1,998.0 Q402.8,1093.5 443.5,1187.0 L458.5,1191.0 Q411.6,1093.5 369.6,998.0 Z" fill="#d8f65c" stroke="#37441a" stroke-width="1.3" stroke-linejoin="round"/>
<path d="M368.4,998.0 Q410.1,1092.0 457.5,1184.0 L472.5,1188.0 Q418.8,1092.0 370.9,998.0 Z" fill="#d8f65c" stroke="#37441a" stroke-width="1.3" stroke-linejoin="round"/>
<path d="M369.8,998.0 Q417.4,1089.0 471.5,1177.0 L486.5,1183.0 Q426.1,1089.0 372.2,998.0 Z" fill="#d8f65c" stroke="#37441a" stroke-width="1.3" stroke-linejoin="round"/>
<path d="M371.1,998.0 Q424.2,1084.0 484.5,1166.0 L499.5,1174.0 Q433.0,1084.0 373.6,998.0 Z" fill="#d8f65c" stroke="#37441a" stroke-width="1.3" stroke-linejoin="round"/>
<path d="M346,977 C341,962 337,945 341,930 C345,915 377,912 382,930 C386,945 382,962 374,977 Z" fill="#d8f65c" stroke="#37441a" stroke-width="1.4"/>
<path d="M361,969 C357,960 352,948 353.5,940 C355,930 369,930 370.5,940 C371.5,948 366,960 361,969 Z" fill="#fff" stroke="#37441a" stroke-width="1.3"/>
<path d="M373,975.5 L431.5,974 L432,993 L373,995 Z" fill="#d8f65c" stroke="#37441a" stroke-width="1.4"/>
<path d="M345,976 L373,975.5 L373.5,997 L346,998 Z" fill="#d8f65c" stroke="#37441a" stroke-width="1.4"/>
<path d="M887,990.5 C950,993 1050,995 1100,996 C1180,996 1240,994 1286.5,994" fill="none" stroke="#4a4f45" stroke-width="1.8" stroke-linecap="round"/>
<path d="M945.8,1039.0 Q917.0,1101.6 882.2,1178.0 L892.8,1172.0 Q923.0,1101.6 947.2,1039.0 Z" fill="#cdef55" stroke="#37441a" stroke-width="1.3" stroke-linejoin="round"/>
<path d="M946.8,1039.0 Q921.4,1102.0 891.0,1178.5 L901.5,1173.4 Q927.4,1102.0 948.2,1039.0 Z" fill="#cdef55" stroke="#37441a" stroke-width="1.3" stroke-linejoin="round"/>
<path d="M947.8,1039.0 Q925.9,1102.4 899.7,1178.9 L910.2,1174.8 Q931.9,1102.4 949.2,1039.0 Z" fill="#cdef55" stroke="#37441a" stroke-width="1.3" stroke-linejoin="round"/>
<path d="M948.8,1039.0 Q930.4,1102.8 908.4,1179.4 L918.9,1176.2 Q936.4,1102.8 950.2,1039.0 Z" fill="#cdef55" stroke="#37441a" stroke-width="1.3" stroke-linejoin="round"/>
<path d="M949.8,1039.0 Q934.9,1103.3 917.2,1179.8 L927.7,1177.5 Q940.9,1103.3 951.2,1039.0 Z" fill="#cdef55" stroke="#37441a" stroke-width="1.3" stroke-linejoin="round"/>
<path d="M950.8,1039.0 Q939.3,1103.7 925.9,1180.3 L936.4,1178.9 Q945.3,1103.7 952.2,1039.0 Z" fill="#cdef55" stroke="#37441a" stroke-width="1.3" stroke-linejoin="round"/>
<path d="M951.8,1039.0 Q943.8,1104.1 934.6,1180.8 L945.1,1180.3 Q949.8,1104.1 953.2,1039.0 Z" fill="#cdef55" stroke="#37441a" stroke-width="1.3" stroke-linejoin="round"/>
<path d="M952.8,1039.0 Q948.3,1104.1 943.4,1180.3 L953.9,1180.8 Q954.3,1104.1 954.2,1039.0 Z" fill="#cdef55" stroke="#37441a" stroke-width="1.3" stroke-linejoin="round"/>
<path d="M953.8,1039.0 Q952.8,1103.7 952.1,1178.9 L962.6,1180.3 Q958.8,1103.7 955.2,1039.0 Z" fill="#cdef55" stroke="#37441a" stroke-width="1.3" stroke-linejoin="round"/>
<path d="M954.8,1039.0 Q957.3,1103.3 960.8,1177.5 L971.3,1179.8 Q963.3,1103.3 956.2,1039.0 Z" fill="#cdef55" stroke="#37441a" stroke-width="1.3" stroke-linejoin="round"/>
<path d="M955.8,1039.0 Q961.7,1102.8 969.6,1176.2 L980.1,1179.4 Q967.7,1102.8 957.2,1039.0 Z" fill="#cdef55" stroke="#37441a" stroke-width="1.3" stroke-linejoin="round"/>
<path d="M956.8,1039.0 Q966.2,1102.4 978.3,1174.8 L988.8,1178.9 Q972.2,1102.4 958.2,1039.0 Z" fill="#cdef55" stroke="#37441a" stroke-width="1.3" stroke-linejoin="round"/>
<path d="M957.8,1039.0 Q970.7,1102.0 987.0,1173.4 L997.5,1178.5 Q976.7,1102.0 959.2,1039.0 Z" fill="#cdef55" stroke="#37441a" stroke-width="1.3" stroke-linejoin="round"/>
<path d="M958.8,1039.0 Q975.2,1101.6 995.8,1172.0 L1006.2,1178.0 Q981.2,1101.6 960.2,1039.0 Z" fill="#cdef55" stroke="#37441a" stroke-width="1.3" stroke-linejoin="round"/>
<rect x="945.5" y="1024" width="15" height="15.5" fill="#cdef55" stroke="#37441a" stroke-width="1.2"/>
<path d="M946,1024 C941,1012 938,997 940,988 C943,976 963,976 966,988 C968,997 965,1012 960,1024 Z" fill="#cdef55" stroke="#37441a" stroke-width="1.2"/>
<path d="M953,1021 C949,1013 946,1003 947,997 C948,991 958,991 959,997 C960,1003 957,1013 953,1021 Z" fill="#fafafa" stroke="#37441a" stroke-width="1.1"/>
<path d="M1071.8,1039.0 Q1045.4,1101.6 1013.8,1178.0 L1024.2,1172.0 Q1051.4,1101.6 1073.2,1039.0 Z" fill="#cdef55" stroke="#37441a" stroke-width="1.3" stroke-linejoin="round"/>
<path d="M1072.8,1039.0 Q1050.0,1102.0 1022.6,1178.5 L1033.1,1173.4 Q1056.0,1102.0 1074.2,1039.0 Z" fill="#cdef55" stroke="#37441a" stroke-width="1.3" stroke-linejoin="round"/>
<path d="M1073.8,1039.0 Q1054.5,1102.4 1031.5,1178.9 L1042.0,1174.8 Q1060.5,1102.4 1075.2,1039.0 Z" fill="#cdef55" stroke="#37441a" stroke-width="1.3" stroke-linejoin="round"/>
<path d="M1074.8,1039.0 Q1059.1,1102.8 1040.4,1179.4 L1050.9,1176.2 Q1065.1,1102.8 1076.2,1039.0 Z" fill="#cdef55" stroke="#37441a" stroke-width="1.3" stroke-linejoin="round"/>
<path d="M1075.8,1039.0 Q1063.6,1103.3 1049.3,1179.8 L1059.8,1177.5 Q1069.6,1103.3 1077.2,1039.0 Z" fill="#cdef55" stroke="#37441a" stroke-width="1.3" stroke-linejoin="round"/>
<path d="M1076.8,1039.0 Q1068.2,1103.7 1058.2,1180.3 L1068.7,1178.9 Q1074.2,1103.7 1078.2,1039.0 Z" fill="#cdef55" stroke="#37441a" stroke-width="1.3" stroke-linejoin="round"/>
<path d="M1077.8,1039.0 Q1072.7,1104.1 1067.1,1180.8 L1077.6,1180.3 Q1078.7,1104.1 1079.2,1039.0 Z" fill="#cdef55" stroke="#37441a" stroke-width="1.3" stroke-linejoin="round"/>
<path d="M1078.8,1039.0 Q1077.3,1104.1 1075.9,1180.3 L1086.4,1180.8 Q1083.3,1104.1 1080.2,1039.0 Z" fill="#cdef55" stroke="#37441a" stroke-width="1.3" stroke-linejoin="round"/>
<path d="M1079.8,1039.0 Q1081.8,1103.7 1084.8,1178.9 L1095.3,1180.3 Q1087.8,1103.7 1081.2,1039.0 Z" fill="#cdef55" stroke="#37441a" stroke-width="1.3" stroke-linejoin="round"/>
<path d="M1080.8,1039.0 Q1086.4,1103.3 1093.7,1177.5 L1104.2,1179.8 Q1092.4,1103.3 1082.2,1039.0 Z" fill="#cdef55" stroke="#37441a" stroke-width="1.3" stroke-linejoin="round"/>
<path d="M1081.8,1039.0 Q1090.9,1102.8 1102.6,1176.2 L1113.1,1179.4 Q1096.9,1102.8 1083.2,1039.0 Z" fill="#cdef55" stroke="#37441a" stroke-width="1.3" stroke-linejoin="round"/>
<path d="M1082.8,1039.0 Q1095.5,1102.4 1111.5,1174.8 L1122.0,1178.9 Q1101.5,1102.4 1084.2,1039.0 Z" fill="#cdef55" stroke="#37441a" stroke-width="1.3" stroke-linejoin="round"/>
<path d="M1083.8,1039.0 Q1100.0,1102.0 1120.4,1173.4 L1130.9,1178.5 Q1106.0,1102.0 1085.2,1039.0 Z" fill="#cdef55" stroke="#37441a" stroke-width="1.3" stroke-linejoin="round"/>
<path d="M1084.8,1039.0 Q1104.5,1101.6 1129.2,1172.0 L1139.8,1178.0 Q1110.5,1101.6 1086.2,1039.0 Z" fill="#cdef55" stroke="#37441a" stroke-width="1.3" stroke-linejoin="round"/>
<rect x="1071.5" y="1024" width="15" height="15.5" fill="#cdef55" stroke="#37441a" stroke-width="1.2"/>
<path d="M1072,1024 C1067,1012 1064,997 1066,988 C1069,976 1089,976 1092,988 C1094,997 1091,1012 1086,1024 Z" fill="#cdef55" stroke="#37441a" stroke-width="1.2"/>
<path d="M1079,1021 C1075,1013 1072,1003 1073,997 C1074,991 1084,991 1085,997 C1086,1003 1083,1013 1079,1021 Z" fill="#fafafa" stroke="#37441a" stroke-width="1.1"/>
<path d="M1198.2,1039.0 Q1172.2,1101.6 1140.8,1178.0 L1151.2,1172.0 Q1178.2,1101.6 1199.8,1039.0 Z" fill="#cdef55" stroke="#37441a" stroke-width="1.3" stroke-linejoin="round"/>
<path d="M1199.2,1039.0 Q1176.8,1102.0 1149.8,1178.5 L1160.3,1173.4 Q1182.8,1102.0 1200.8,1039.0 Z" fill="#cdef55" stroke="#37441a" stroke-width="1.3" stroke-linejoin="round"/>
<path d="M1200.2,1039.0 Q1181.4,1102.4 1158.9,1178.9 L1169.4,1174.8 Q1187.4,1102.4 1201.8,1039.0 Z" fill="#cdef55" stroke="#37441a" stroke-width="1.3" stroke-linejoin="round"/>
<path d="M1201.2,1039.0 Q1186.1,1102.8 1168.0,1179.4 L1178.5,1176.2 Q1192.1,1102.8 1202.8,1039.0 Z" fill="#cdef55" stroke="#37441a" stroke-width="1.3" stroke-linejoin="round"/>
<path d="M1202.2,1039.0 Q1190.7,1103.3 1177.1,1179.8 L1187.6,1177.5 Q1196.7,1103.3 1203.8,1039.0 Z" fill="#cdef55" stroke="#37441a" stroke-width="1.3" stroke-linejoin="round"/>
<path d="M1203.2,1039.0 Q1195.3,1103.7 1186.1,1180.3 L1196.6,1178.9 Q1201.3,1103.7 1204.8,1039.0 Z" fill="#cdef55" stroke="#37441a" stroke-width="1.3" stroke-linejoin="round"/>
<path d="M1204.2,1039.0 Q1200.0,1104.1 1195.2,1180.8 L1205.7,1180.3 Q1206.0,1104.1 1205.8,1039.0 Z" fill="#cdef55" stroke="#37441a" stroke-width="1.3" stroke-linejoin="round"/>
<path d="M1205.2,1039.0 Q1204.6,1104.1 1204.3,1180.3 L1214.8,1180.8 Q1210.6,1104.1 1206.8,1039.0 Z" fill="#cdef55" stroke="#37441a" stroke-width="1.3" stroke-linejoin="round"/>
<path d="M1206.2,1039.0 Q1209.2,1103.7 1213.4,1178.9 L1223.9,1180.3 Q1215.2,1103.7 1207.8,1039.0 Z" fill="#cdef55" stroke="#37441a" stroke-width="1.3" stroke-linejoin="round"/>
<path d="M1207.2,1039.0 Q1213.9,1103.3 1222.4,1177.5 L1232.9,1179.8 Q1219.9,1103.3 1208.8,1039.0 Z" fill="#cdef55" stroke="#37441a" stroke-width="1.3" stroke-linejoin="round"/>
<path d="M1208.2,1039.0 Q1218.5,1102.8 1231.5,1176.2 L1242.0,1179.4 Q1224.5,1102.8 1209.8,1039.0 Z" fill="#cdef55" stroke="#37441a" stroke-width="1.3" stroke-linejoin="round"/>
<path d="M1209.2,1039.0 Q1223.1,1102.4 1240.6,1174.8 L1251.1,1178.9 Q1229.1,1102.4 1210.8,1039.0 Z" fill="#cdef55" stroke="#37441a" stroke-width="1.3" stroke-linejoin="round"/>
<path d="M1210.2,1039.0 Q1227.8,1102.0 1249.7,1173.4 L1260.2,1178.5 Q1233.8,1102.0 1211.8,1039.0 Z" fill="#cdef55" stroke="#37441a" stroke-width="1.3" stroke-linejoin="round"/>
<path d="M1211.2,1039.0 Q1232.4,1101.6 1258.8,1172.0 L1269.2,1178.0 Q1238.4,1101.6 1212.8,1039.0 Z" fill="#cdef55" stroke="#37441a" stroke-width="1.3" stroke-linejoin="round"/>
<rect x="1198.0" y="1024" width="15" height="15.5" fill="#cdef55" stroke="#37441a" stroke-width="1.2"/>
<path d="M1198.5,1024 C1193.5,1012 1190.5,997 1192.5,988 C1195.5,976 1215.5,976 1218.5,988 C1220.5,997 1217.5,1012 1212.5,1024 Z" fill="#cdef55" stroke="#37441a" stroke-width="1.2"/>
<path d="M1205.5,1021 C1201.5,1013 1198.5,1003 1199.5,997 C1200.5,991 1210.5,991 1211.5,997 C1212.5,1003 1209.5,1013 1205.5,1021 Z" fill="#fafafa" stroke="#37441a" stroke-width="1.1"/>
<path d="M937,992.8 L969,993.8" stroke="#4a4f45" stroke-width="1.8"/>
<path d="M1063,994.3 L1095,995.3" stroke="#4a4f45" stroke-width="1.8"/>
<path d="M1189.5,995.8 L1221.5,996.8" stroke="#4a4f45" stroke-width="1.8"/>
<path d="M98.5,268 L104.5,268 L104.5,324.5 L95.5,324.5 L95.5,283.5 L82.6,290.5 L82,281.5 C88,278 94,273 98.5,268 Z" fill="#d42025"/>
<text x="770" y="310" font-family="'Liberation Sans', sans-serif" font-size="78" font-weight="normal" fill="#d42025" stroke="#d42025" stroke-width="2.2">2</text>
<text x="77" y="660" font-family="'Liberation Sans', sans-serif" font-size="78" font-weight="normal" fill="#d42025" stroke="#d42025" stroke-width="2.2">3</text>
<text x="780" y="647" font-family="'Liberation Sans', sans-serif" font-size="78" font-weight="normal" fill="#d42025" stroke="#d42025" stroke-width="2.2">4</text>
<text x="87.5" y="1012.5" font-family="'Liberation Sans', sans-serif" font-size="78" font-weight="normal" fill="#d42025" stroke="#d42025" stroke-width="2.2">5</text>
<text x="786.8" y="1002" font-family="'Liberation Sans', sans-serif" font-size="78" font-weight="normal" fill="#d42025" stroke="#d42025" stroke-width="2.2">6</text>
<text x="21.31" y="517" font-family="'Liberation Sans', sans-serif" font-size="41.2" font-weight="normal" fill="#111" textLength="155.75" lengthAdjust="spacingAndGlyphs" style="font-kerning:none" stroke="#111" stroke-width="0.5">Separate</text>
<text x="186.50" y="517" font-family="'Liberation Sans', sans-serif" font-size="41.2" font-weight="normal" fill="#111" textLength="68.92" lengthAdjust="spacingAndGlyphs" style="font-kerning:none" stroke="#111" stroke-width="0.5">and</text>
<text x="262.96" y="517" font-family="'Liberation Sans', sans-serif" font-size="41.2" font-weight="normal" fill="#111" textLength="117.16" lengthAdjust="spacingAndGlyphs" style="font-kerning:none" stroke="#111" stroke-width="0.5">unfold</text>
<text x="387.30" y="517" font-family="'Liberation Sans', sans-serif" font-size="41.2" font-weight="normal" fill="#111" textLength="65.39" lengthAdjust="spacingAndGlyphs" style="font-kerning:none" stroke="#111" stroke-width="0.5">one</text>
<text x="462.02" y="517" font-family="'Liberation Sans', sans-serif" font-size="41.2" font-weight="normal" fill="#111" textLength="93.88" lengthAdjust="spacingAndGlyphs" style="font-kerning:none" stroke="#111" stroke-width="0.5">piece</text>
<text x="567.18" y="517" font-family="'Liberation Sans', sans-serif" font-size="41.2" font-weight="normal" fill="#111" textLength="97.63" lengthAdjust="spacingAndGlyphs" style="font-kerning:none" stroke="#111" stroke-width="0.5">tissue</text>
<text x="674.03" y="517" font-family="'Liberation Sans', sans-serif" font-size="41.2" font-weight="normal" fill="#111" textLength="119.46" lengthAdjust="spacingAndGlyphs" style="font-kerning:none" stroke="#111" stroke-width="0.5">paper.</text>
<text x="103.42" y="570.5" font-family="'Liberation Sans', sans-serif" font-size="41.2" font-weight="normal" fill="#a81c2c" textLength="97.97" lengthAdjust="spacingAndGlyphs" style="font-kerning:none" stroke="#a81c2c" stroke-width="0.5">(each</text>
<text x="208.64" y="570.5" font-family="'Liberation Sans', sans-serif" font-size="41.2" font-weight="normal" fill="#a81c2c" textLength="87.18" lengthAdjust="spacingAndGlyphs" style="font-kerning:none" stroke="#a81c2c" stroke-width="0.5">color</text>
<text x="306.58" y="570.5" font-family="'Liberation Sans', sans-serif" font-size="41.2" font-weight="normal" fill="#a81c2c" textLength="17.60" lengthAdjust="spacingAndGlyphs" style="font-kerning:none" stroke="#a81c2c" stroke-width="0.5">5</text>
<text x="335.26" y="570.5" font-family="'Liberation Sans', sans-serif" font-size="41.2" font-weight="normal" fill="#a81c2c" textLength="70.75" lengthAdjust="spacingAndGlyphs" style="font-kerning:none" stroke="#a81c2c" stroke-width="0.5">pcs,</text>
<text x="414.94" y="570.5" font-family="'Liberation Sans', sans-serif" font-size="41.2" font-weight="normal" fill="#a81c2c" textLength="154.88" lengthAdjust="spacingAndGlyphs" style="font-kerning:none" stroke="#a81c2c" stroke-width="0.5">separate</text>
<text x="576.24" y="570.5" font-family="'Liberation Sans', sans-serif" font-size="41.2" font-weight="normal" fill="#a81c2c" textLength="103.32" lengthAdjust="spacingAndGlyphs" style="font-kerning:none" stroke="#a81c2c" stroke-width="0.5">them)</text>
<text x="866.35" y="516.5" font-family="'Liberation Sans', sans-serif" font-size="41.2" font-weight="normal" fill="#111" textLength="58.97" lengthAdjust="spacingAndGlyphs" style="font-kerning:none" stroke="#111" stroke-width="0.5">Lay</text>
<text x="934.25" y="516.5" font-family="'Liberation Sans', sans-serif" font-size="41.2" font-weight="normal" fill="#111" textLength="55.16" lengthAdjust="spacingAndGlyphs" style="font-kerning:none" stroke="#111" stroke-width="0.5">the</text>
<text x="998.14" y="516.5" font-family="'Liberation Sans', sans-serif" font-size="41.2" font-weight="normal" fill="#111" textLength="105.51" lengthAdjust="spacingAndGlyphs" style="font-kerning:none" stroke="#111" stroke-width="0.5">tissue</text>
<text x="1110.35" y="516.5" font-family="'Liberation Sans', sans-serif" font-size="41.2" font-weight="normal" fill="#111" textLength="103.27" lengthAdjust="spacingAndGlyphs" style="font-kerning:none" stroke="#111" stroke-width="0.5">paper</text>
<text x="1220.37" y="516.5" font-family="'Liberation Sans', sans-serif" font-size="41.2" font-weight="normal" fill="#111" textLength="77.68" lengthAdjust="spacingAndGlyphs" style="font-kerning:none" stroke="#111" stroke-width="0.5">flat.</text>
<text x="28.65" y="875" font-family="'Liberation Sans', sans-serif" font-size="41.2" font-weight="normal" fill="#111" textLength="67.10" lengthAdjust="spacingAndGlyphs" style="font-kerning:none" stroke="#111" stroke-width="0.5">Roll</text>
<text x="105.44" y="875" font-family="'Liberation Sans', sans-serif" font-size="41.2" font-weight="normal" fill="#111" textLength="55.90" lengthAdjust="spacingAndGlyphs" style="font-kerning:none" stroke="#111" stroke-width="0.5">the</text>
<text x="171.04" y="875" font-family="'Liberation Sans', sans-serif" font-size="41.2" font-weight="normal" fill="#111" textLength="124.59" lengthAdjust="spacingAndGlyphs" style="font-kerning:none" stroke="#111" stroke-width="0.5">middle</text>
<text x="305.63" y="875" font-family="'Liberation Sans', sans-serif" font-size="41.2" font-weight="normal" fill="#111" textLength="150.91" lengthAdjust="spacingAndGlyphs" style="font-kerning:none" stroke="#111" stroke-width="0.5">together</text>
<text x="468.98" y="875" font-family="'Liberation Sans', sans-serif" font-size="41.2" font-weight="normal" fill="#111" textLength="127.01" lengthAdjust="spacingAndGlyphs" style="font-kerning:none" stroke="#111" stroke-width="0.5">tightly,</text>
<text x="599.36" y="875" font-family="'Liberation Sans', sans-serif" font-size="41.2" font-weight="normal" fill="#111" textLength="37.17" lengthAdjust="spacingAndGlyphs" style="font-kerning:none" stroke="#111" stroke-width="0.5">as</text>
<text x="647.93" y="875" font-family="'Liberation Sans', sans-serif" font-size="41.2" font-weight="normal" fill="#111" textLength="127.18" lengthAdjust="spacingAndGlyphs" style="font-kerning:none" stroke="#111" stroke-width="0.5">shown.</text>
<text x="880.77" y="876.2" font-family="'Liberation Sans', sans-serif" font-size="41.2" font-weight="normal" fill="#111" textLength="91.47" lengthAdjust="spacingAndGlyphs" style="font-kerning:none" stroke="#111" stroke-width="0.5">Twist</text>
<text x="984.53" y="876.2" font-family="'Liberation Sans', sans-serif" font-size="41.2" font-weight="normal" fill="#111" textLength="57.36" lengthAdjust="spacingAndGlyphs" style="font-kerning:none" stroke="#111" stroke-width="0.5">the</text>
<text x="1048.97" y="876.2" font-family="'Liberation Sans', sans-serif" font-size="41.2" font-weight="normal" fill="#111" textLength="127.71" lengthAdjust="spacingAndGlyphs" style="font-kerning:none" stroke="#111" stroke-width="0.5">middle</text>
<text x="1182.54" y="876.2" font-family="'Liberation Sans', sans-serif" font-size="41.2" font-weight="normal" fill="#111" textLength="84.04" lengthAdjust="spacingAndGlyphs" style="font-kerning:none" stroke="#111" stroke-width="0.5">part.</text>
<text x="73.12" y="1283.2" font-family="'Liberation Sans', sans-serif" font-size="41.2" font-weight="normal" fill="#111" textLength="51.37" lengthAdjust="spacingAndGlyphs" style="font-kerning:none" stroke="#111" stroke-width="0.5">Tie</text>
<text x="133.42" y="1283.2" font-family="'Liberation Sans', sans-serif" font-size="41.2" font-weight="normal" fill="#111" textLength="79.85" lengthAdjust="spacingAndGlyphs" style="font-kerning:none" stroke="#111" stroke-width="0.5">with</text>
<text x="221.29" y="1283.2" font-family="'Liberation Sans', sans-serif" font-size="41.2" font-weight="normal" fill="#111" textLength="60.55" lengthAdjust="spacingAndGlyphs" style="font-kerning:none" stroke="#111" stroke-width="0.5">our</text>
<text x="290.41" y="1283.2" font-family="'Liberation Sans', sans-serif" font-size="41.2" font-weight="normal" fill="#111" textLength="92.25" lengthAdjust="spacingAndGlyphs" style="font-kerning:none" stroke="#111" stroke-width="0.5">cable</text>
<text x="391.43" y="1283.2" font-family="'Liberation Sans', sans-serif" font-size="41.2" font-weight="normal" fill="#111" textLength="74.67" lengthAdjust="spacingAndGlyphs" style="font-kerning:none" stroke="#111" stroke-width="0.5">ties,</text>
<text x="473.33" y="1283.2" font-family="'Liberation Sans', sans-serif" font-size="41.2" font-weight="normal" fill="#111" textLength="37.81" lengthAdjust="spacingAndGlyphs" style="font-kerning:none" stroke="#111" stroke-width="0.5">as</text>
<text x="521.03" y="1283.2" font-family="'Liberation Sans', sans-serif" font-size="41.2" font-weight="normal" fill="#111" textLength="127.91" lengthAdjust="spacingAndGlyphs" style="font-kerning:none" stroke="#111" stroke-width="0.5">shown.</text>
<text x="794.61" y="1286.7" font-family="'Liberation Sans', sans-serif" font-size="41.2" font-weight="normal" fill="#111" textLength="94.38" lengthAdjust="spacingAndGlyphs" style="font-kerning:none" stroke="#111" stroke-width="0.5">Hang</text>
<text x="898.89" y="1286.7" font-family="'Liberation Sans', sans-serif" font-size="41.2" font-weight="normal" fill="#111" textLength="115.71" lengthAdjust="spacingAndGlyphs" style="font-kerning:none" stroke="#111" stroke-width="0.5">tassels</text>
<text x="1027.41" y="1286.7" font-family="'Liberation Sans', sans-serif" font-size="41.2" font-weight="normal" fill="#111" textLength="75.39" lengthAdjust="spacingAndGlyphs" style="font-kerning:none" stroke="#111" stroke-width="0.5">with</text>
<text x="1111.93" y="1286.7" font-family="'Liberation Sans', sans-serif" font-size="41.2" font-weight="normal" fill="#111" textLength="57.15" lengthAdjust="spacingAndGlyphs" style="font-kerning:none" stroke="#111" stroke-width="0.5">the</text>
<text x="1178.69" y="1286.7" font-family="'Liberation Sans', sans-serif" font-size="41.2" font-weight="normal" fill="#111" textLength="113.88" lengthAdjust="spacingAndGlyphs" style="font-kerning:none" stroke="#111" stroke-width="0.5">string.</text>
<text x="713.11" y="1341.6" font-family="'Liberation Sans', sans-serif" font-size="41.2" font-weight="normal" fill="#111" textLength="67.66" lengthAdjust="spacingAndGlyphs" style="font-kerning:none" stroke="#111" stroke-width="0.5">You</text>
<text x="789.51" y="1341.6" font-family="'Liberation Sans', sans-serif" font-size="41.2" font-weight="normal" fill="#111" textLength="62.25" lengthAdjust="spacingAndGlyphs" style="font-kerning:none" stroke="#111" stroke-width="0.5">can</text>
<text x="860.81" y="1341.6" font-family="'Liberation Sans', sans-serif" font-size="41.2" font-weight="normal" fill="#111" textLength="97.31" lengthAdjust="spacingAndGlyphs" style="font-kerning:none" stroke="#111" stroke-width="0.5">move</text>
<text x="967.30" y="1341.6" font-family="'Liberation Sans', sans-serif" font-size="41.2" font-weight="normal" fill="#111" textLength="95.38" lengthAdjust="spacingAndGlyphs" style="font-kerning:none" stroke="#111" stroke-width="0.5">them</text>
<text x="1071.28" y="1341.6" font-family="'Liberation Sans', sans-serif" font-size="41.2" font-weight="normal" fill="#111" textLength="129.65" lengthAdjust="spacingAndGlyphs" style="font-kerning:none" stroke="#111" stroke-width="0.5">around</text>
<text x="1208.52" y="1341.6" font-family="'Liberation Sans', sans-serif" font-size="41.2" font-weight="normal" fill="#111" textLength="35.55" lengthAdjust="spacingAndGlyphs" style="font-kerning:none" stroke="#111" stroke-width="0.5">as</text>
<text x="1252.85" y="1341.6" font-family="'Liberation Sans', sans-serif" font-size="41.2" font-weight="normal" fill="#111" textLength="65.91" lengthAdjust="spacingAndGlyphs" style="font-kerning:none" stroke="#111" stroke-width="0.5">you</text>
<text x="1324.79" y="1341.6" font-family="'Liberation Sans', sans-serif" font-size="41.2" font-weight="normal" fill="#111" textLength="78.07" lengthAdjust="spacingAndGlyphs" style="font-kerning:none" stroke="#111" stroke-width="0.5">like.</text></svg>
</body></html>
